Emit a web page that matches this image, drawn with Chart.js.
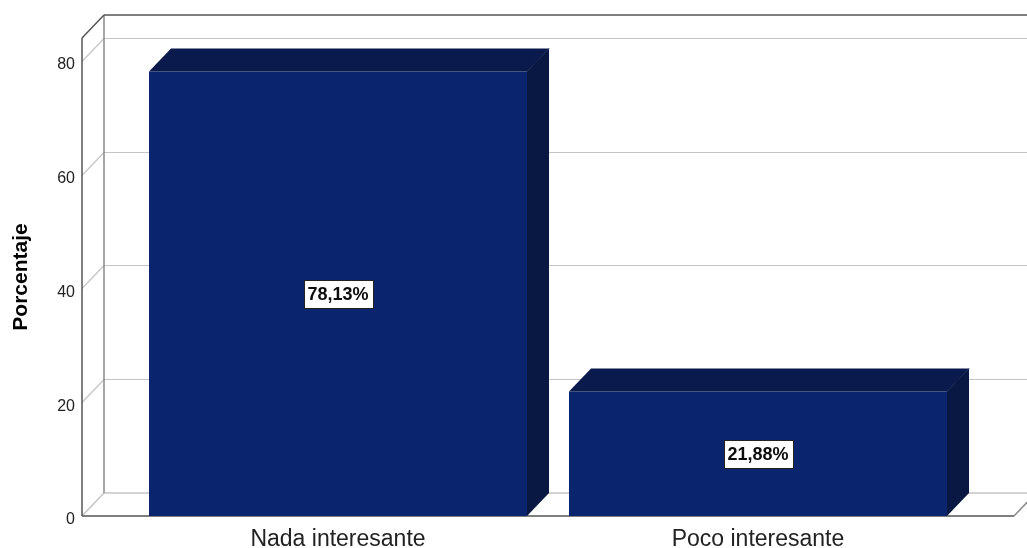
<!DOCTYPE html>
<html>
<head>
<meta charset="utf-8">
<title>Porcentaje</title>
<script src="https://cdn.jsdelivr.net/npm/chart.js@4"></script>
<style>
    html, body { margin: 0; padding: 0; background: #fff; }
    #wrap { width: 1027px; height: 548px; }
</style>
</head>
<body>
<div id="wrap"><canvas id="barChart"></canvas></div>
<script>
var categories = ['Nada interesante', 'Poco interesante'];
var percentages = [78.13, 21.88];
var yTicks = [0, 20, 40, 60, 80];
var yMax = 84;

// depth of the 3D frame and bars
var DX = 22;
var DY = 23;
var FRAME_PAD = 46;

var FONT = "'Liberation Sans', Arial, sans-serif";

var frameColors = {
    grid: '#c4c4c4',
    back: '#8a8a8a',
    edge: '#555555'
};

var barColors = {
    front: '#0a246e',
    top: '#0a1a4d',
    side: '#081842'
};

function line(ctx, x1, y1, x2, y2, color, width) {
    ctx.beginPath();
    ctx.strokeStyle = color;
    ctx.lineWidth = width;
    ctx.moveTo(x1, y1);
    ctx.lineTo(x2, y2);
    ctx.stroke();
}

function poly(ctx, pts, color) {
    ctx.beginPath();
    ctx.moveTo(pts[0][0], pts[0][1]);
    for (var i = 1; i < pts.length; i++) {
        ctx.lineTo(pts[i][0], pts[i][1]);
    }
    ctx.closePath();
    ctx.fillStyle = color;
    ctx.fill();
}

// back wall, left wall and floor of the box
var framePlugin = {
    id: 'frame3d',
    beforeDatasetsDraw: function(chart) {
        var ctx = chart.ctx;
        var area = chart.chartArea;
        var yScale = chart.scales.y;
        var x0 = area.left - FRAME_PAD;
        var x1 = area.right + FRAME_PAD;
        var yb = yScale.getPixelForValue(0);
        var yt = area.top;
        var farRight = chart.width + DX;

        ctx.save();
        yTicks.forEach(function(v) {
            if (v === 0) return;
            var y = Math.round(yScale.getPixelForValue(v)) + 0.5;
            line(ctx, x0, y, x0 + DX, y - DY, frameColors.grid, 1.2);
            line(ctx, x0 + DX, y - DY, farRight, y - DY, frameColors.grid, 1.2);
        });

        // floor
        line(ctx, x0, yb, x0 + DX, yb - DY, frameColors.grid, 1.5);
        line(ctx, x0 + DX, yb - DY, farRight, yb - DY, frameColors.grid, 1.5);
        line(ctx, x1, yb, x1 + DX, yb - DY, frameColors.back, 1.5);

        // back left edge
        line(ctx, x0 + DX, yb - DY, x0 + DX, yt - DY, frameColors.back, 1.5);

        // outer edges
        line(ctx, x0, yb, x0, yt, frameColors.edge, 1.5);
        line(ctx, x0, yt, x0 + DX, yt - DY, frameColors.edge, 1.5);
        line(ctx, x0 + DX, yt - DY, farRight, yt - DY, frameColors.edge, 1.5);
        line(ctx, x0, yb, x1, yb, frameColors.edge, 1.5);
        ctx.restore();
    }
};

// top and side faces of each bar, then the value boxes
var barDepthPlugin = {
    id: 'barDepth',
    afterDatasetsDraw: function(chart) {
        var ctx = chart.ctx;
        var meta = chart.getDatasetMeta(0);
        ctx.save();
        meta.data.forEach(function(bar, i) {
            var p = bar.getProps(['x', 'y', 'width', 'base'], true);
            var l = p.x - p.width / 2;
            var r = p.x + p.width / 2;
            var t = p.y;
            var b = p.base;

            poly(ctx, [[l, t], [l + DX, t - DY], [r + DX, t - DY], [r, t]], barColors.top);
            poly(ctx, [[r, t], [r + DX, t - DY], [r + DX, b - DY], [r, b]], barColors.side);
            line(ctx, r, t, r + DX, t - DY, '#10204f', 1);

            var text = percentages[i].toFixed(2).replace('.', ',') + '%';
            ctx.font = 'bold 18px ' + FONT;
            var w = Math.round(ctx.measureText(text).width + 8);
            var h = 28;
            var cy = (t + b) / 2;
            var bx = Math.round(p.x - w / 2) + 0.5;
            var by = Math.round(cy - h / 2) + 0.5;
            ctx.fillStyle = '#ffffff';
            ctx.fillRect(bx, by, w, h);
            ctx.strokeStyle = '#222222';
            ctx.lineWidth = 1;
            ctx.strokeRect(bx, by, w, h);
            ctx.fillStyle = '#0d0d0d';
            ctx.textAlign = 'center';
            ctx.textBaseline = 'middle';
            ctx.fillText(text, p.x, cy + 1);
        });
        ctx.restore();
    }
};

var barChartConfig = {
    type: 'bar',
    data: {
        labels: categories,
        datasets: [{
            data: percentages,
            backgroundColor: barColors.front,
            borderWidth: 0,
            barPercentage: 0.9,
            categoryPercentage: 1.0
        }]
    },
    options: {
        responsive: true,
        maintainAspectRatio: false,
        animation: false,
        layout: {
            padding: { top: 38, right: 59, bottom: 0, left: 0 }
        },
        plugins: {
            legend: { display: false },
            tooltip: { enabled: false }
        },
        scales: {
            x: {
                grid: { display: false, drawTicks: false },
                border: { display: false },
                ticks: {
                    color: '#222222',
                    padding: 10,
                    font: { family: FONT, size: 23 }
                },
                afterFit: function(scale) {
                    scale.height = 32;
                    scale.paddingLeft = 0;
                    scale.paddingRight = 0;
                }
            },
            y: {
                min: 0,
                max: yMax,
                grid: { display: false, drawTicks: false },
                border: { display: false },
                ticks: {
                    color: '#222222',
                    padding: 53,
                    labelOffset: 4,
                    font: { family: FONT, size: 16 }
                },
                afterBuildTicks: function(scale) {
                    scale.ticks = yTicks.map(function(v) { return { value: v }; });
                },
                afterFit: function(scale) {
                    // the wide tick padding must not push the plot down
                    scale.width = 128;
                    scale.paddingTop = 0;
                    scale.paddingBottom = 0;
                },
                title: {
                    display: true,
                    text: 'Porcentaje',
                    color: '#000000',
                    padding: { top: 9, bottom: 0 },
                    font: { family: FONT, size: 21, weight: 'bold' }
                }
            }
        }
    },
    plugins: [framePlugin, barDepthPlugin]
};

window.onload = function() {
    var ctx = document.getElementById('barChart').getContext('2d');
    window.barChart = new Chart(ctx, barChartConfig);
};
</script>
</body>
</html>
